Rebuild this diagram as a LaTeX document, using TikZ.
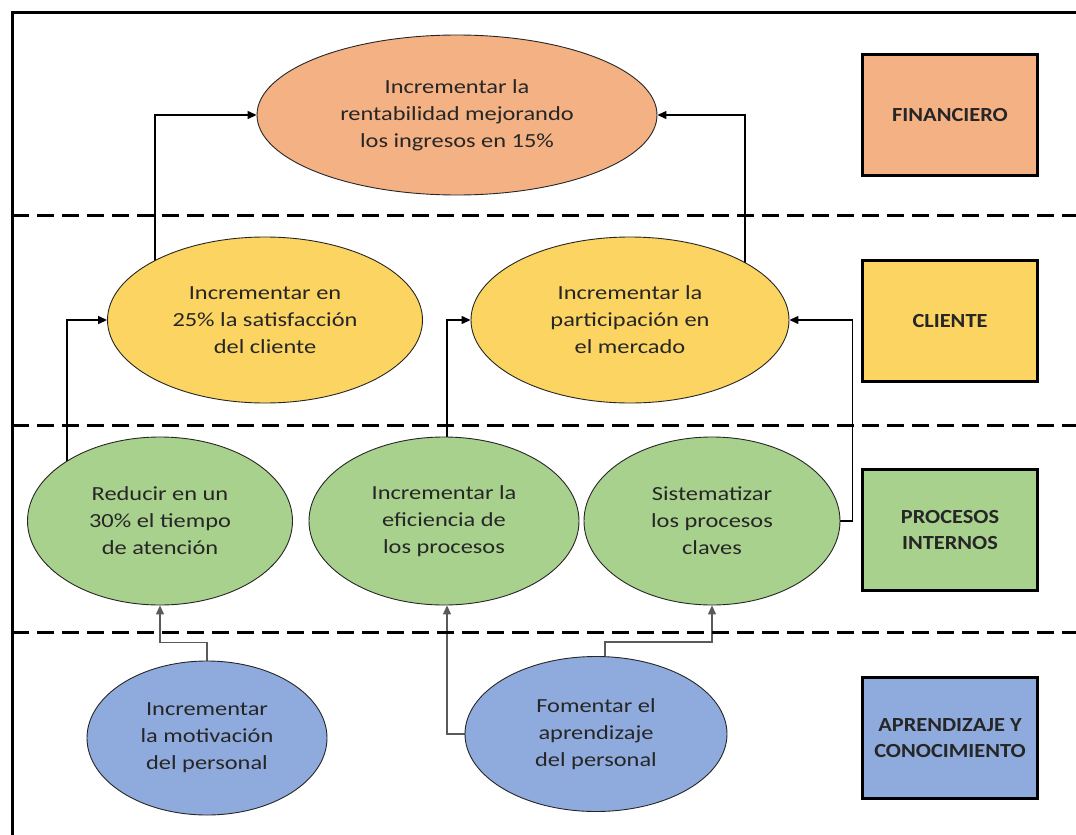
\documentclass[tikz,border=0pt]{standalone}
\usepackage{fontspec}
\setmainfont{Carlito}
\newfontfamily\goalfont{Carlito}[FakeStretch=1.22]
\newfontfamily\perspfont{Carlito}[FakeStretch=1.12]
\usetikzlibrary{shapes.geometric,arrows.meta,backgrounds}

\definecolor{finfill}{HTML}{F4B183}
\definecolor{clifill}{HTML}{FBD461}
\definecolor{profill}{HTML}{A9D18E}
\definecolor{apfill}{HTML}{8FAADC}
\definecolor{txt}{HTML}{262626}
\definecolor{lnkgray}{HTML}{5A5A5A}

\begin{document}
\begin{tikzpicture}[x=1pt,y=-1pt,
  goal/.style={ellipse, draw=black!85, line width=0.9pt, inner sep=0pt,
    align=center, text=txt, font=\goalfont\fontsize{20}{27}\selectfont},
  persp/.style={rectangle, draw=black, line width=3pt, inner sep=0pt,
    minimum width=175pt, minimum height=121pt, align=center, text=txt,
    font=\perspfont\bfseries\fontsize{20}{25.5}\selectfont},
  lane/.style={line width=3pt, dash pattern=on 17pt off 8pt},
  conn/.style={line width=1.3pt, draw=black, -{Triangle[length=9pt,width=8pt]}},
  lnk/.style={conn, draw=lnkgray}
]
\useasboundingbox (0,0) rectangle (1076,835);

% frame and perspective lanes
\draw[line width=3pt] (12,835) -- (12,12) -- (1076,12);
\draw[lane] (12,215) -- (1076,215);
\draw[lane] (12,425) -- (1076,425);
\draw[lane] (12,632) -- (1076,632);

% perspective labels
\node[persp, fill=finfill] (lf) at (950,115) {FINANCIERO};
\node[persp, fill=clifill] (lc) at (950,321) {CLIENTE};
\node[persp, fill=profill] (lp) at (950,530) {PROCESOS\\INTERNOS};
\node[persp, fill=apfill]  (la) at (950,738) {APRENDIZAJE Y\\CONOCIMIENTO};

% strategic objectives
\node[goal, fill=finfill, minimum width=400pt, minimum height=160pt] (fin) at (457,115)
  {Incrementar la\\rentabilidad mejorando\\los ingresos en 15\%};

\node[goal, fill=clifill, minimum width=315pt, minimum height=166pt] (cli1) at (265,320)
  {Incrementar en\\25\% la satisfacción\\del cliente};
\node[goal, fill=clifill, minimum width=318pt, minimum height=166pt] (cli2) at (630,320)
  {Incrementar la\\participación en\\el mercado};

\node[goal, fill=profill, minimum width=265pt, minimum height=168pt] (pr1) at (160,521)
  {Reducir en un\\30\% el tiempo\\de atención};
\node[goal, fill=profill, minimum width=270pt, minimum height=168pt] (pr2) at (444,521)
  {Incrementar la\\eficiencia de\\los procesos};
\node[goal, fill=profill, minimum width=256pt, minimum height=168pt] (pr3) at (712,521)
  {Sistematizar\\los procesos\\claves};

\node[goal, fill=apfill, minimum width=240pt, minimum height=154pt] (ap1) at (207,738)
  {Incrementar\\la motivación\\del personal};
\node[goal, fill=apfill, minimum width=262pt, minimum height=155pt] (ap2) at (596,734)
  {Fomentar el\\aprendizaje\\del personal};

% cause-effect links, kept behind the objectives
\begin{pgfonlayer}{background}
  \draw[conn] ([xshift=-110pt]cli1.center) |- (fin.west);
  \draw[conn] ([xshift=115pt]cli2.center) |- (fin.east);
  \draw[conn] ([xshift=-93pt]pr1.center) |- (cli1.west);
  \draw[conn] ([xshift=3pt]pr2.center) |- (cli2.west);
  \draw[conn] (pr3.east) -- ([xshift=12pt]pr3.east) |- (cli2.east);
  \draw[lnk] (ap1.center) -- ([yshift=18pt]ap1.north) -| (pr1.south);
  \draw[lnk] (ap2.west) -| ([xshift=3pt]pr2.south);
  \draw[lnk] ([xshift=9pt]ap2.center) -- ([xshift=9pt,yshift=14pt]ap2.north) -| (pr3.south);
\end{pgfonlayer}
\end{tikzpicture}
\end{document}
